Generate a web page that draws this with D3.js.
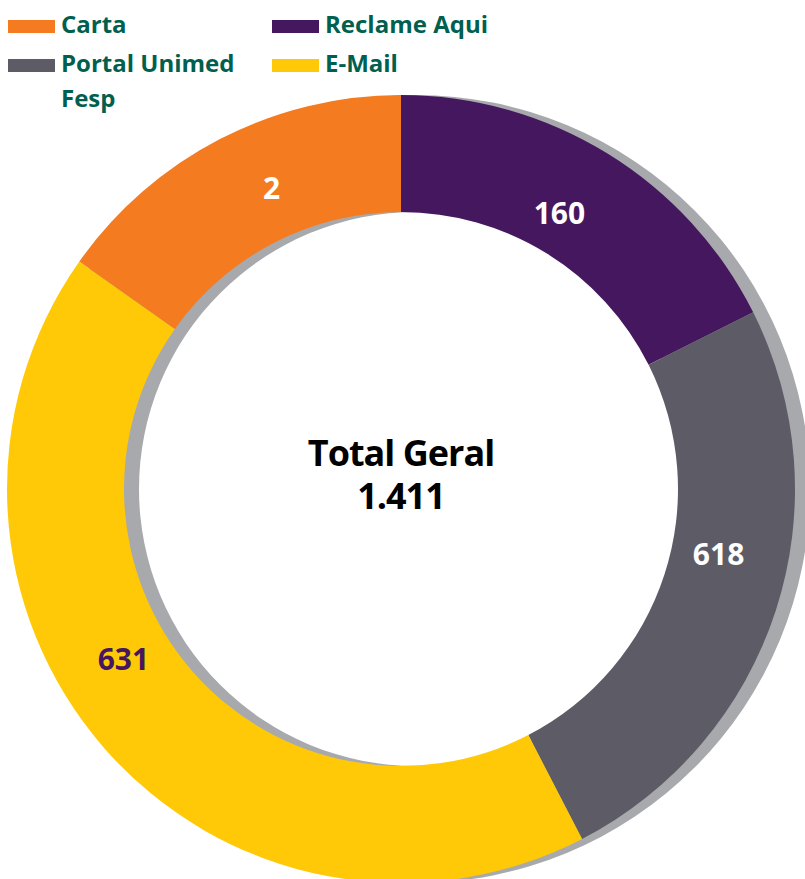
<!DOCTYPE html>
<html>
<head>
<meta charset="utf-8">
<script src="https://cdn.jsdelivr.net/npm/d3@7"></script>
<style>
  html, body { margin: 0; padding: 0; background: #ffffff; }
  svg { display: block; }
</style>
</head>
<body>
<svg id="chart" width="805" height="879"></svg>
<script>
// ---- data ----
const categories   = ["Reclame Aqui", "Portal Unimed Fesp", "E-Mail", "Carta"];
const valueLabels  = [160, 618, 631, 2];            // numbers printed on the ring
const sliceShares  = [17.6, 24.8, 42.4, 15.2];       // drawn share of the ring (%)
const legendOrder  = ["Carta", "Reclame Aqui", "Portal Unimed Fesp", "E-Mail"];
const totalLabel   = "Total Geral";
const totalValue   = "1.411";

// ---- style / layout ----
const colors = {
  "Reclame Aqui": "#45175e",
  "Portal Unimed Fesp": "#5d5c66",
  "E-Mail": "#ffc907",
  "Carta": "#f47b20"
};
const labelColors = {
  "Reclame Aqui": "#ffffff",
  "Portal Unimed Fesp": "#ffffff",
  "E-Mail": "#45175e",
  "Carta": "#ffffff"
};
const labelAngleShift = { "Reclame Aqui": -1.9, "Portal Unimed Fesp": -6.6, "E-Mail": 9.7, "Carta": 4.1 }; // degrees
const labelRadius = { "Reclame Aqui": 319, "Portal Unimed Fesp": 324, "E-Mail": 325, "Carta": 328 };
const W = 805, H = 879;
const cx = 401, cy = 489, R = 394, r = 277;
const shadowDx = 15, shadowDy = 0;
const font = "'Open Sans', 'Noto Sans', sans-serif";

const svg = d3.select("#chart");

const data = categories.map((c, i) => ({ cat: c, share: sliceShares[i], label: valueLabels[i] }));
const pie = d3.pie().value(d => d.share).sort(null);
const arcs = pie(data);
const arc = d3.arc().innerRadius(r).outerRadius(R);

// shadow ring
svg.append("g")
  .attr("transform", `translate(${cx + shadowDx},${cy + shadowDy})`)
  .append("path")
  .attr("d", d3.arc().innerRadius(r).outerRadius(R).startAngle(0).endAngle(2 * Math.PI)())
  .attr("fill", "#a8a9ad");

const g = svg.append("g").attr("transform", `translate(${cx},${cy})`);
g.selectAll("path.slice")
  .data(arcs)
  .join("path")
  .attr("class", "slice")
  .attr("d", arc)
  .attr("fill", d => colors[d.data.cat]);

// value labels
g.selectAll("text.val")
  .data(arcs)
  .join("text")
  .attr("class", "val")
  .attr("transform", d => {
    const a = (d.startAngle + d.endAngle) / 2 + labelAngleShift[d.data.cat] * Math.PI / 180;
    const lr = labelRadius[d.data.cat];
    return `translate(${lr * Math.sin(a)},${-lr * Math.cos(a)})`;
  })
  .attr("text-anchor", "middle")
  .attr("dominant-baseline", "central")
  .attr("font-family", font)
  .attr("font-weight", 700)
  .attr("font-size", 30)
  .attr("fill", d => labelColors[d.data.cat])
  .text(d => d.data.label);

// center total
svg.append("text")
  .attr("x", cx).attr("y", 466)
  .attr("text-anchor", "middle")
  .attr("font-family", font)
  .attr("font-weight", 700)
  .attr("font-size", 36)
  .attr("letter-spacing", -1)
  .attr("fill", "#000000")
  .text(totalLabel);
svg.append("text")
  .attr("x", cx).attr("y", 509)
  .attr("text-anchor", "middle")
  .attr("font-family", font)
  .attr("font-weight", 700)
  .attr("font-size", 36)
  .attr("letter-spacing", -1)
  .attr("fill", "#000000")
  .text(totalValue);

// legend
const legendPos = [
  { x: 8, y: 20 }, { x: 272, y: 20 },
  { x: 8, y: 59 }, { x: 272, y: 59 }
];
const legendText = {
  "Carta": ["Carta"],
  "Reclame Aqui": ["Reclame Aqui"],
  "Portal Unimed Fesp": ["Portal Unimed", "Fesp"],
  "E-Mail": ["E-Mail"]
};
const lg = svg.append("g");
legendOrder.forEach((c, i) => {
  const p = legendPos[i];
  lg.append("rect")
    .attr("x", p.x).attr("y", p.y)
    .attr("width", 47).attr("height", 13)
    .attr("fill", colors[c]);
  const t = lg.append("text")
    .attr("font-family", font)
    .attr("font-weight", 700)
    .attr("font-size", 24)
    .attr("letter-spacing", 0)
    .attr("fill", "#005f4e");
  legendText[c].forEach((line, j) => {
    t.append("tspan").attr("x", p.x + 53).attr("y", p.y + 13 + j * 35).text(line);
  });
});
</script>
</body>
</html>
